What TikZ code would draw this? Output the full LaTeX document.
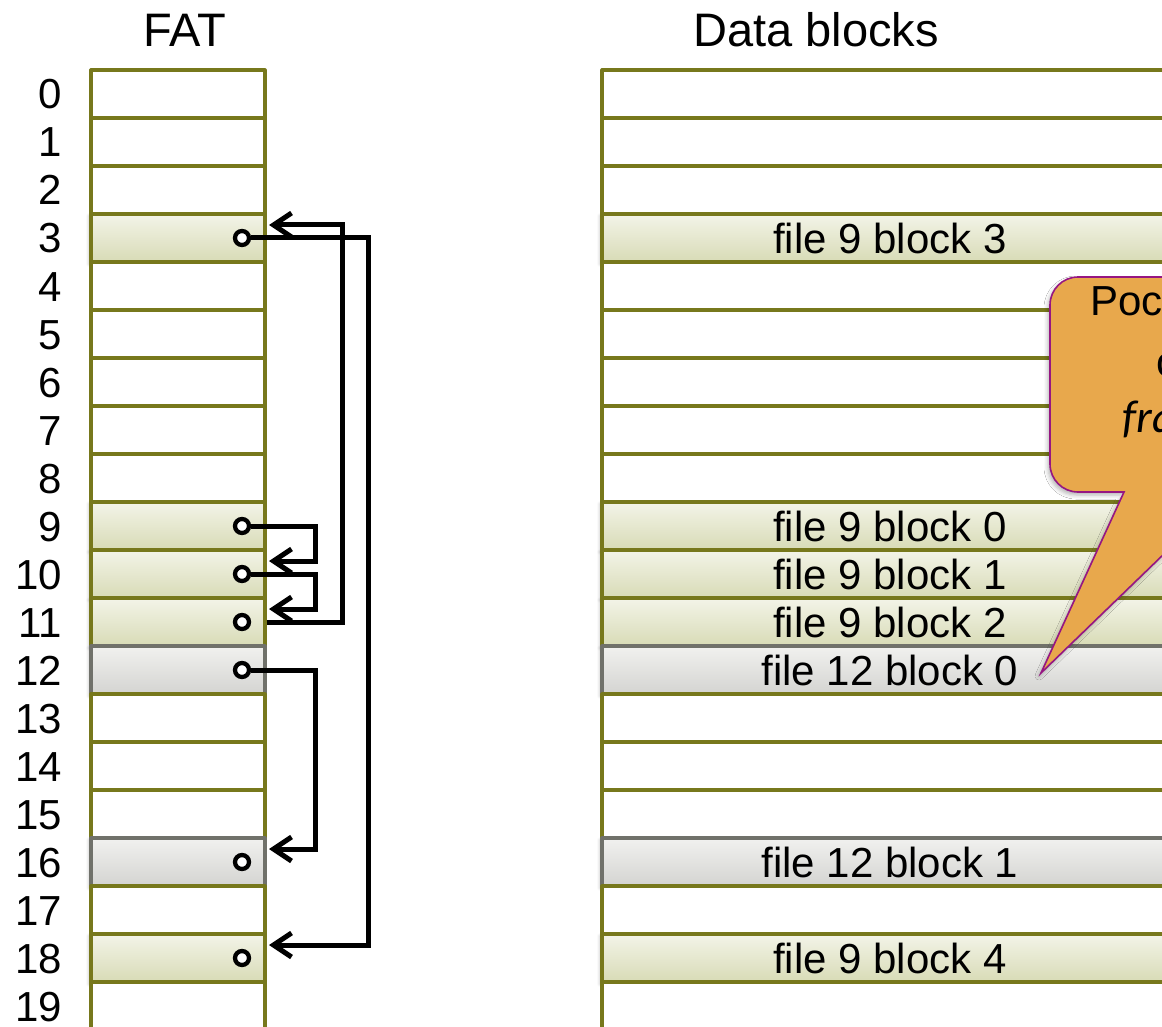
\documentclass[tikz,border=0pt]{standalone}
\usepackage{fontspec}
\setmainfont{Liberation Sans}
\newfontfamily\calfont{Carlito}
\usetikzlibrary{arrows.meta,shadows.blur}
\definecolor{fatolive}{RGB}{119,120,28}
\definecolor{fninetop}{RGB}{243,244,232}
\definecolor{fninebot}{RGB}{216,219,182}
\definecolor{ftwtop}{RGB}{241,241,239}
\definecolor{ftwbot}{RGB}{212,212,209}
\definecolor{grayline}{RGB}{112,113,106}
\definecolor{calloutfill}{RGB}{232,168,76}
\definecolor{calloutline}{RGB}{150,22,130}
\begin{document}
\begin{tikzpicture}[x=1pt,y=-1pt,
  every node/.style={font=\fontsize{42}{50}\selectfont, inner sep=0pt},
  heading/.style={anchor=base, font=\fontsize{47}{56}\selectfont},
  rowbox/.style={draw=fatolive, line width=3.2pt, fill=white, minimum height=48pt, line join=round},
  fatrow/.style={rowbox, minimum width=174pt},
  datarow/.style={rowbox, minimum width=576pt},
  plainrow/.style={},
  fninerow/.style={top color=fninetop, bottom color=fninebot,
    blur shadow={shadow xshift=-2pt, shadow yshift=-2pt, shadow blur radius=3pt, shadow opacity=25}},
  ftwrow/.style={draw=grayline, top color=ftwtop, bottom color=ftwbot,
    blur shadow={shadow xshift=-2pt, shadow yshift=-2pt, shadow blur radius=3pt, shadow opacity=25}},
  dot/.style={circle, draw=black, fill=white, line width=4.3pt, minimum size=14pt, inner sep=0pt},
  link/.style={draw=black, line width=5pt, line join=miter, line cap=butt,
    -{Straight Barb[length=18pt,width=24pt]}},
  callout/.style={fill=calloutfill, draw=calloutline, line width=1.6pt,
    blur shadow={shadow xshift=-2pt, shadow yshift=-3pt, shadow blur radius=4pt, shadow opacity=30}},
]
\useasboundingbox (0,0) rectangle (1162,1027);

% headings
\node[heading] (hfat) at (185,47) {FAT};
\node[heading] (hdata) at (816,47) {Data blocks};

% rows
\foreach \i/\s/\t in {0/plainrow/{},1/plainrow/{},2/plainrow/{},3/fninerow/{file 9 block 3},
  4/plainrow/{},5/plainrow/{},6/plainrow/{},7/plainrow/{},8/plainrow/{},
  9/fninerow/{file 9 block 0},10/fninerow/{file 9 block 1},11/fninerow/{file 9 block 2},
  12/ftwrow/{file 12 block 0},13/plainrow/{},14/plainrow/{},15/plainrow/{},
  16/ftwrow/{file 12 block 1},17/plainrow/{},18/fninerow/{file 9 block 4},19/plainrow/{}}{
  \node[fatrow,\s] (f\i) at (178,94+48*\i) {};
  \node[datarow,\s] (b\i) at (890,94+48*\i) {\t};
  \node[anchor=base east] (n\i) at (62,109+48*\i) {\i};
}

% pointer dots
\foreach \i in {3,9,10,11,12,16,18}{
  \node[dot] (d\i) at (242,94+48*\i) {};
}
% arrow entry points
\foreach \i in {3,10,11,16,18}{
  \coordinate (a\i) at (269,81+48*\i);
}

% connectors
\draw[link] (d9.east) -- ++(64,0) |- (a10);
\draw[link] (d10.east) -- ++(64,0) |- (a11);
\draw[link] (f11.east) -- ++(76,0) |- (a3);
\draw[link] (d12.east) -- ++(64,0) |- (a16);
\draw[link] (d3.east) -- ++(117,0) |- (a18);

% callout
\coordinate (tip) at (1041,673);
\path[callout] (tip) -- (1124,492) [rounded corners=28pt] -- (1050,492) -- (1050,277)
  -- (1320,277) -- (1320,492) [sharp corners] -- (1228,492) -- cycle;
\node[anchor=base west] (cl1) at (1090,315) {Poc};
\node[anchor=base west] (cl2) at (1156,376) {c};
\node[anchor=base west, font=\fontsize{46}{54}\calfont\itshape] (cl3) at (1122,432) {fra};
\end{tikzpicture}
\end{document}
